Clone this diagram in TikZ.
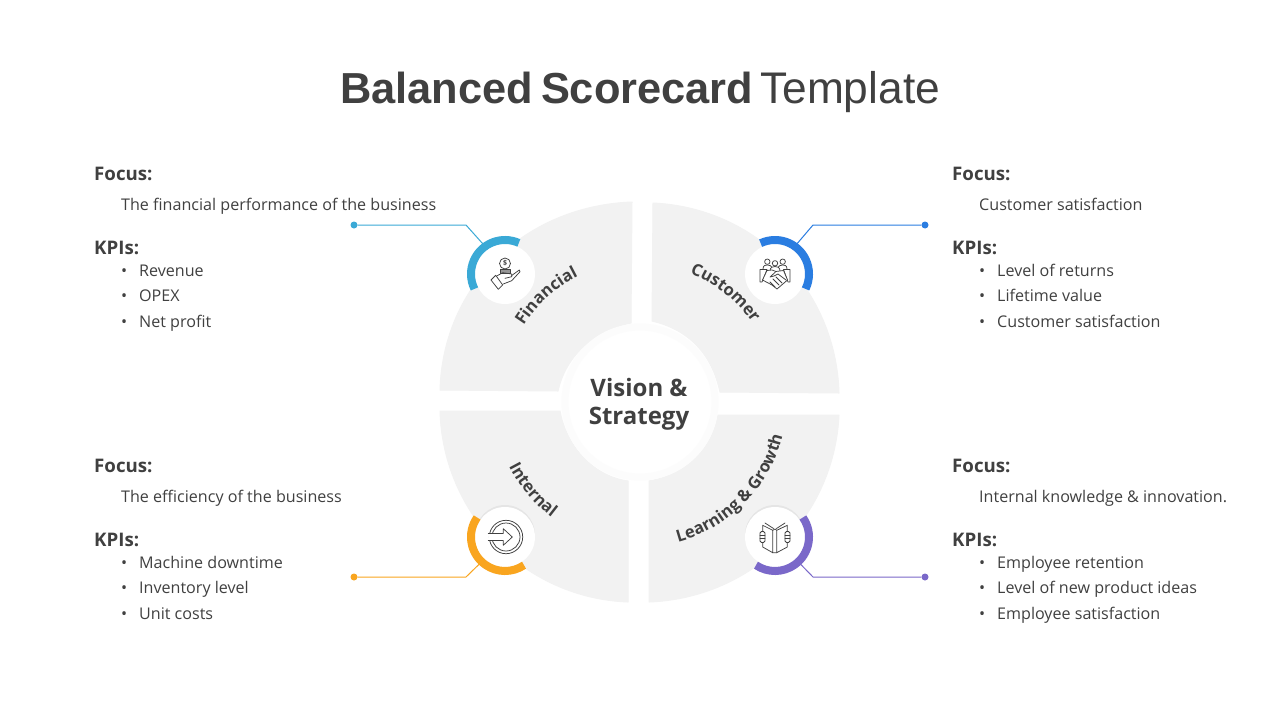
\documentclass[tikz,border=0pt]{standalone}
\usepackage{fontspec}
\setmainfont{Open Sans}
\newfontfamily\titlefont{Liberation Sans}
\usetikzlibrary{decorations.text,shadows}

\definecolor{inktext}{HTML}{404040}
\definecolor{segfill}{HTML}{F2F2F2}
\definecolor{finblue}{HTML}{3AA9D6}
\definecolor{cusblue}{HTML}{2A7DE1}
\definecolor{intorange}{HTML}{F9A51F}
\definecolor{lrnpurple}{HTML}{7A68C9}

\newcommand{\segfont}{\fontsize{16.6}{16.6}\selectfont\bfseries\color{inktext}}

\tikzset{
  heading/.style={anchor=base west,text=inktext,font=\fontsize{18.7}{18.7}\selectfont\bfseries,inner sep=0pt},
  bodytext/.style={anchor=base west,text=inktext,font=\fontsize{16.1}{16.1}\selectfont,inner sep=0pt},
  segment/.style={fill=segfill,draw=segfill,line width=1pt,line join=round},
  segtext/.style={decorate,decoration={text along path,text align=center,text={|\segfont|#1}}},
  badge/.style={circle,fill=white,minimum size=60pt,inner sep=0pt},
  badgeshadow/.style={drop shadow={shadow xshift=0pt,shadow yshift=2pt,opacity=.05,fill=black}},
  enddot/.style={circle,inner sep=0pt,minimum size=7pt},
  icon/.style={draw=inktext,line width=0.75pt,line join=round,line cap=round},
}

% name, x, baseline of Focus, focus line, kpi list
\newcommand{\infoblock}[5]{
  \node[heading] (#1focus) at (#2,-#3) {Focus:};
  \node[bodytext] (#1line) at (#2+27,-#3-30.6) {#4};
  \node[heading] (#1kpi) at (#2,-#3-74) {KPIs:};
  \foreach \kpi [count=\idx] in {#5}{
    \node[bodytext] (#1bullet\idx) at (#2+27,-#3-70.5-25.5*\idx) {•};
    \node[bodytext] (#1item\idx) at (#2+45,-#3-70.5-25.5*\idx) {\kpi};
  }
}

\begin{document}
\begin{tikzpicture}[x=1pt,y=1pt]
\useasboundingbox (0,0) rectangle (1280,-720);
\fill[white] (0,0) rectangle (1280,-720);

\node[anchor=base,text=inktext,font=\titlefont\fontsize{44.3}{44.3}\selectfont] (title) at (640,-103)
  {{\fontsize{43.4}{44}\selectfont\bfseries Balanced\hspace{-4pt} Scorecard}\hspace{-5.5pt} Template};

% segments
\draw[segment] (632,-202) .. controls (525,-206) and (443,-285) .. (440,-390) -- (558,-391)
  .. controls (566,-355) and (595,-330) .. (631,-323) -- cycle;
\draw[segment] (653,-203) .. controls (757,-208) and (836,-290) .. (839,-393) -- (720,-392)
  .. controls (712,-355) and (690,-330) .. (652,-321) -- cycle;
\draw[segment] (440,-411) .. controls (443,-515) and (525,-598) .. (628,-602) -- (628,-481)
  .. controls (592,-476) and (566,-445) .. (560,-411) -- cycle;
\draw[segment] (839,-415) .. controls (834,-518) and (752,-598) .. (649,-602) -- (649,-481)
  .. controls (685,-475) and (712,-450) .. (718,-415) -- cycle;

% centre
\node[circle,fill=white,draw=segfill!25,line width=7pt,minimum size=150pt,inner sep=0pt] (vision) at (640,-402) {};
\node[text=inktext,font=\fontsize{24}{28}\selectfont\bfseries,align=center] (visiontext) at (639,-404) {Vision \&\hspace{6pt}\\Strategy};

% segment labels
\coordinate (hub) at (640,-400);
\path[segtext=Financial] (hub) ++(170:138) arc (170:94:138);
\path[segtext=Customer] (hub) ++(85:136) arc (85:18:136);
\path[segtext=Internal] (hub) ++(190:147) arc (190:250:147);
\path[segtext={Learning {\&} Growth}] (hub) ++(265:147) arc (265:366:147);

% badges
\node[badge] (fin) at (505,-274) {};
\node[badge] (cus) at (775,-274) {};
\node[badge,badgeshadow] (int) at (505,-537) {};
\node[badge,badgeshadow] (lrn) at (775,-537) {};

% connectors
\node[enddot,fill=finblue] (findot) at (354,-225) {};
\node[enddot,fill=cusblue] (cusdot) at (925,-225) {};
\node[enddot,fill=intorange] (intdot) at (354,-577) {};
\node[enddot,fill=lrnpurple] (lrndot) at (925,-577) {};
\coordinate (finbend) at (466,-225);
\coordinate (cusbend) at (813,-225);
\coordinate (intbend) at (466,-577);
\coordinate (lrnbend) at (813,-577);
\draw[finblue,line width=1pt] (findot) -- (finbend) -- (fin.125);
\draw[cusblue,line width=1pt] (cusdot) -- (cusbend) -- (cus.55);
\draw[intorange,line width=1pt] (intdot) -- (intbend) -- (int.227);
\draw[lrnpurple,line width=1pt] (lrndot) -- (lrnbend) -- (lrn.313);

% rings
\foreach \nm/\col/\from/\to in {fin/finblue/66/206,cus/cusblue/115/-26,int/intorange/145/304,lrn/lrnpurple/35/-124}
  \draw[\col,line width=8pt] (\nm) ++(\from:34) arc (\from:\to:34);

% hand with coin
\begin{scope}[shift={(fin)}]
  \draw[icon] (0,10.5) circle (5.5);
  \draw[icon,fill=inktext!55] (-5,5) rectangle (5,0.6);
  \draw[icon] (-14,-6) -- (-9.3,-1.3) -- (-2.3,-11) -- (-6.7,-15.3) -- cycle;
  \draw[icon] (-8.3,-2) -- (-2.3,1.3) -- (6.7,0) -- (6.7,-2.7) -- (0,-4.3);
  \draw[icon] (6.7,-1.5) -- (14.3,4) -- (15,2.3) -- (6.7,-6.7) -- (-1.7,-10);
  \node[inktext,font=\fontsize{7}{7}\selectfont\bfseries,inner sep=0pt] (coin) at (0,10.5) {\$};
\end{scope}

% people shaking hands
\begin{scope}[shift={(cus)}]
  \draw[icon] (-7.7,12.3) circle (2.7) (0,10.7) circle (2.7) (7.7,12.3) circle (2.7);
  \draw[icon] (-12,5) .. controls (-12,9) and (-9,9) .. (-7.7,9) .. controls (-5,9) and (-4,8) .. (-3.5,7);
  \draw[icon] (12,5) .. controls (12,9) and (9,9) .. (7.7,9) .. controls (5,9) and (4,8) .. (3.5,7);
  \draw[icon] (-5,3) .. controls (-5,7) and (-2,7.5) .. (0,7.5) .. controls (2,7.5) and (5,7) .. (5,3);
  \draw[icon] (-15,4.5) -- (-8,4.5) -- (-13,-8) -- (-15,-8) -- cycle;
  \draw[icon] (15,4.5) -- (8.5,4.5) -- (13,-8) -- (15,-8) -- cycle;
  \draw[icon,fill=white] (-8,3.5) -- (-3,4) -- (1,2.5) -- (8.5,3.5) -- (12.5,-6) -- (2,-15) -- (-3,-11) -- (-12.5,-6) -- cycle;
  \draw[icon] (1,2.5) -- (-5,-3) -- (-1,-2) -- (3,0) -- (11,-6);
  \draw[icon] (-2,-5) -- (4,-11) (1,-3) -- (7,-9) (-5,-8) -- (0,-13);
\end{scope}

% arrow into a circle
\begin{scope}[shift={(int)}]
  \draw[icon] (1,0) circle (16.7) (1,0) circle (14);
  \draw[icon,fill=white] (-16.7,3.5) -- (-1.7,3.5) -- (-1.7,8.3) -- (7.3,0) -- (-1.7,-8.3) -- (-1.7,-3.5) -- (-16.7,-3.5);
\end{scope}

% open book
\begin{scope}[shift={(lrn)}]
  \draw[icon] (-10,14) -- (-1.5,8.5) (10,14) -- (1.5,8.5);
  \draw[icon,fill=white] (-12.3,11.7) -- (-2.3,6.7) -- (-2.3,-15.7) -- (-12.3,-10) -- cycle;
  \draw[icon,fill=white] (12.3,11.7) -- (1.7,6.7) -- (1.7,-15.7) -- (12.3,-10) -- cycle;
  \draw[icon] (-2.3,-15.7) -- (1.7,-15.7) (-2.3,6.7) -- (0,8) -- (1.7,6.7);
  \draw[icon,fill=white,rounded corners=1.5pt] (-15,5.5) rectangle (-10,-5.5);
  \draw[icon,fill=white,rounded corners=1.5pt] (15,5.5) rectangle (10,-5.5);
  \draw[icon] (-15,2) -- (-10,2) (-15,-1.7) -- (-10,-1.7) (15,2) -- (10,2) (15,-1.7) -- (10,-1.7);
\end{scope}

% text blocks
\infoblock{fin}{94}{180}{The financial performance of the business}{Revenue,OPEX,Net profit}
\infoblock{cus}{952}{180}{Customer satisfaction}{Level of returns,Lifetime value,Customer satisfaction}
\infoblock{int}{94}{472}{The efficiency of the business}{Machine downtime,Inventory level,Unit costs}
\infoblock{lrn}{952}{472}{Internal knowledge \& innovation.}{Employee retention,Level of new product ideas,Employee satisfaction}
\end{tikzpicture}
\end{document}
